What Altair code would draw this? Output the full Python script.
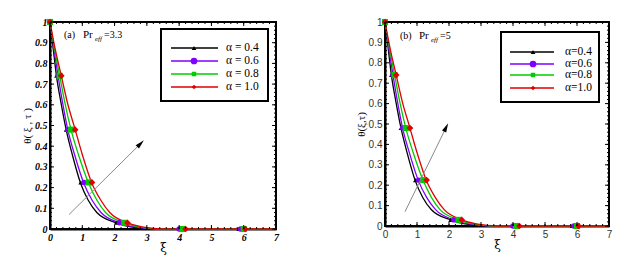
import altair as alt
import pandas as pd
import numpy as np

series = ["α = 0.4", "α = 0.6", "α = 0.8", "α = 1.0"]
colors = ["#000000", "#8000ff", "#00cc00", "#e00000"]
shapes = ["triangle-up", "circle", "square", "diamond"]
sizes = [22, 45, 20, 22]

# curve levels (theta) and xi positions where each curve reaches them
theta_levels = [1.0, 0.87, 0.74, 0.61, 0.48, 0.36, 0.22, 0.14, 0.08, 0.03, 0.01, 0.0, 0.0]
xi_04 = [0, 0.10, 0.20, 0.34, 0.50, 0.69, 0.95, 1.18, 1.45, 2.05, 2.50, 3.2, 7]
xi_06 = [0, 0.12, 0.25, 0.39, 0.55, 0.76, 1.05, 1.30, 1.58, 2.15, 2.60, 3.3, 7]
xi_08 = [0, 0.14, 0.30, 0.46, 0.65, 0.88, 1.20, 1.45, 1.72, 2.30, 2.75, 3.4, 7]
xi_10 = [0, 0.16, 0.35, 0.54, 0.78, 1.00, 1.30, 1.57, 1.85, 2.40, 2.85, 3.5, 7]

# marker positions
mk_theta = [1.0, 0.74, 0.48, 0.225, 0.03, 0.0, 0.0]
mk_04 = [0, 0.20, 0.50, 0.95, 2.05, 4.00, 5.85]
mk_06 = [0, 0.25, 0.55, 1.05, 2.15, 4.00, 5.90]
mk_08 = [0, 0.30, 0.65, 1.20, 2.30, 4.10, 6.00]
mk_10 = [0, 0.35, 0.78, 1.30, 2.40, 4.20, 6.05]

x_major = [0, 1, 2, 3, 4, 5, 6, 7]
y_major = [0, 0.1, 0.2, 0.3, 0.4, 0.5, 0.6, 0.7, 0.8, 0.9, 1.0]
x_minor = [round(v, 2) for v in np.arange(0, 7.001, 0.2)]
y_minor = [round(v, 3) for v in np.arange(0, 1.0001, 0.02)]

lines = pd.concat([
    pd.DataFrame({"xi": xs, "theta": theta_levels, "s": s, "o": range(len(xs))})
    for xs, s in zip([xi_04, xi_06, xi_08, xi_10], series)
])
marks = pd.concat([
    pd.DataFrame({"xi": xs, "theta": mk_theta, "s": s})
    for xs, s in zip([mk_04, mk_06, mk_08, mk_10], series)
])


def panel(W, H, label_font, label_style, label_weight, label_color, ytitle, ann, ann_val,
          arrow, leg_box, leg_x, leg_rows, leg_labels, ann_pos):
    xs = alt.Scale(domain=[0, 7], nice=False)
    ys = alt.Scale(domain=[0, 1], nice=False)
    xax = alt.Axis(values=x_major, format="d", labelFont=label_font, labelFontStyle=label_style,
                   labelFontWeight=label_weight, labelColor=label_color, labelFontSize=10,
                   labelOverlap=False, labelFlush=False,
                   ticks=False, domainWidth=2, domainColor="black", grid=False, labelPadding=3,
                   title="ξ", titleFont="DejaVu Serif", titleFontSize=12,
                   titleFontWeight="normal", titlePadding=0)
    yax = alt.Axis(values=y_major, labelExpr="datum.value == 0 ? '0' : datum.value == 1 ? '1' : format(datum.value, '.1f')",
                   labelFont=label_font, labelFontStyle=label_style,
                   labelFontWeight=label_weight, labelColor=label_color, labelFontSize=10,
                   labelOverlap=False, labelFlush=False,
                   ticks=False, domainWidth=2, domainColor="black", grid=False, labelPadding=3,
                   title=ytitle, titleFont="Liberation Serif", titleFontSize=11,
                   titleFontWeight="normal", titlePadding=2)
    X = lambda f: alt.X(f, scale=xs, axis=xax)
    Y = lambda f: alt.Y(f, scale=ys, axis=yax)
    base = alt.Chart(lines).mark_line(strokeWidth=1.3, interpolate="monotone").encode(
        x=X("xi:Q"), y=Y("theta:Q"),
        color=alt.Color("s:N", scale=alt.Scale(domain=series, range=colors), legend=None),
        order="o:Q",
    )
    pts = alt.Chart(marks).mark_point(filled=True, opacity=1).encode(
        x=X("xi:Q"), y=Y("theta:Q"),
        color=alt.Color("s:N", scale=alt.Scale(domain=series, range=colors), legend=None),
        shape=alt.Shape("s:N", scale=alt.Scale(domain=series, range=shapes), legend=None),
        size=alt.Size("s:N", scale=alt.Scale(domain=series, range=sizes), legend=None),
    )
    layers = [base, pts]
    # inward ticks
    for vals, L, ax in [(x_major, 4, "x"), (x_minor, 2, "x"), (y_major, 4, "y"), (y_minor, 2, "y")]:
        df = pd.DataFrame({"v": vals})
        if ax == "x":
            for y0, y1 in [(H, H - L), (0, L)]:
                layers.append(alt.Chart(df).mark_rule(color="black", strokeWidth=1).encode(
                    x=X("v:Q"), y=alt.value(y0), y2=alt.value(y1)))
        else:
            for x0, x1 in [(0, L), (W, W - L)]:
                layers.append(alt.Chart(df).mark_rule(color="black", strokeWidth=1).encode(
                    y=Y("v:Q"), x=alt.value(x0), x2=alt.value(x1)))
    # arrow
    (ax0, ay0, ax1, ay1, ang) = arrow
    adf = pd.DataFrame({"x": [ax0], "y": [ay0], "x2": [ax1], "y2": [ay1], "a": [ang]})
    layers.append(alt.Chart(adf).mark_rule(color="#8a8a8a", strokeWidth=1).encode(
        x=X("x:Q"), y=Y("y:Q"), x2="x2:Q", y2="y2:Q"))
    layers.append(alt.Chart(adf).mark_point(shape="M-0.6,1L0,-1.4L0.6,1Z", filled=True, color="black",
                                             size=60, opacity=1).encode(
        x=X("x2:Q"), y=Y("y2:Q"), angle=alt.Angle("a:Q", scale=None)))
    # annotation
    ax_, ay_ = ann_pos
    layers.append(alt.Chart(pd.DataFrame({"t": [ann[0]]})).mark_text(
        align="left", baseline="middle", font="Liberation Serif", fontSize=10).encode(
        text="t:N", x=alt.value(ax_), y=alt.value(ay_)))
    layers.append(alt.Chart(pd.DataFrame({"t": ["Pr"]})).mark_text(
        align="left", baseline="middle", font="Liberation Serif", fontSize=11).encode(
        text="t:N", x=alt.value(ax_ + 19), y=alt.value(ay_)))
    layers.append(alt.Chart(pd.DataFrame({"t": ["eff"]})).mark_text(
        align="left", baseline="middle", font="Liberation Serif", fontSize=7, fontStyle="italic").encode(
        text="t:N", x=alt.value(ax_ + 31), y=alt.value(ay_ + 4)))
    layers.append(alt.Chart(pd.DataFrame({"t": [ann_val]})).mark_text(
        align="left", baseline="middle", font="Liberation Serif", fontSize=10).encode(
        text="t:N", x=alt.value(ax_ + 40), y=alt.value(ay_)))
    # legend box
    bx0, by0, bx1, by1 = leg_box
    layers.append(alt.Chart(pd.DataFrame({"a": [0]})).mark_rect(
        fill="white", stroke="black", strokeWidth=2).encode(
        x=alt.value(bx0), x2=alt.value(bx1), y=alt.value(by0), y2=alt.value(by1)))
    lx0, lxm, lx1, tx = leg_x
    for s, c, sh, sz, ry, lab in zip(series, colors, shapes, sizes, leg_rows, leg_labels):
        d = pd.DataFrame({"t": [lab]})
        layers.append(alt.Chart(d).mark_rule(color=c, strokeWidth=1.3).encode(
            x=alt.value(lx0), x2=alt.value(lx1), y=alt.value(ry)))
        layers.append(alt.Chart(d).mark_point(shape=sh, filled=True, color=c, size=sz, opacity=1).encode(
            x=alt.value(lxm), y=alt.value(ry)))
        layers.append(alt.Chart(d).mark_text(align="left", baseline="middle",
                                             font="Liberation Serif", fontSize=11.5).encode(
            text="t:N", x=alt.value(tx), y=alt.value(ry)))
    return alt.layer(*layers).properties(width=W, height=H)


left = panel(226, 207, "Liberation Serif", "italic", "bold", "black", "θ( ξ , τ )",
             ["(a)"], "=3.3", (0.59, 0.07, 2.79, 0.41, 45),
             (111, 7, 218, 79), (121, 144, 168, 176), [26, 39, 52, 65], series, (14, 13))
right = panel(224, 204, "Liberation Sans", "normal", "normal", "#333333", "θ(ξ,τ)",
              ["(b)"], "=5", (0.625, 0.07, 1.9, 0.48, 26),
              (116, 10, 214, 80), (125, 148, 169, 180), [30, 42, 53, 66],
              ["α=0.4", "α=0.6", "α=0.8", "α=1.0"], (15, 14))

chart = alt.hconcat(left, right, spacing=74).properties(
    padding={"left": 12, "top": 8, "right": 5, "bottom": 5}
).configure_view(stroke="black", strokeWidth=2)

chart.save("out.html", embed_options={"renderer": "svg", "actions": False})
